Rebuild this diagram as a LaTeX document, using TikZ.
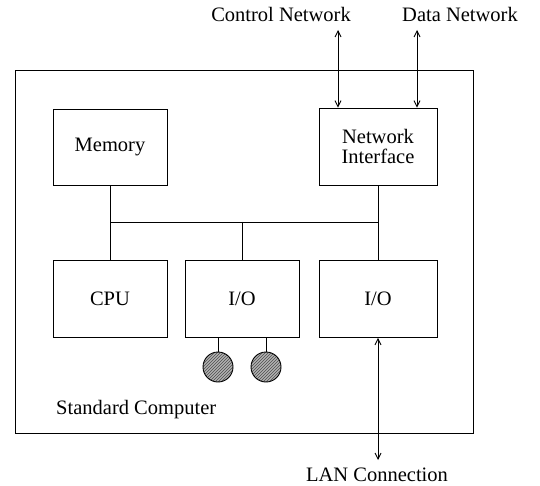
\documentclass[tikz,border=0pt]{standalone}
\usepackage{fontspec}
\setmainfont{Liberation Serif}
\usetikzlibrary{arrows.meta,patterns}
\begin{document}
\begin{tikzpicture}[x=1pt,y=-1pt,
  every node/.style={font=\fontsize{20.5}{23}\selectfont},
  unit/.style={draw, line width=0.9pt, inner sep=0pt, align=center},
  wire/.style={line width=0.9pt},
  link/.style={line width=0.9pt, {Straight Barb[length=6pt,width=6pt]}-{Straight Barb[length=6pt,width=6pt]}},
  disk/.style={draw, line width=0.9pt, circle, minimum size=30pt, inner sep=0pt,
    preaction={fill=gray!60}, pattern=north east lines, pattern color=black!70}]
\useasboundingbox (0,0) rectangle (540,486);
% outer frame
\node[unit, line width=1pt, minimum width=458pt, minimum height=362pt] (outer) at (244,252) {};
% units
\node[unit, minimum width=114pt, minimum height=76pt] (mem) at (110,147) {Memory};
\node[unit, minimum width=118pt, minimum height=77pt] (ni) at (378,146.5) {Network\\[-3pt]Interface};
\node[unit, minimum width=114pt, minimum height=77pt] (cpu) at (110,299) {CPU};
\node[unit, minimum width=114pt, minimum height=77pt] (io1) at (242,299) {I/O};
\node[unit, minimum width=118pt, minimum height=77pt] (io2) at (378,299) {I/O};
% bus
\coordinate (busL) at (110,222);
\coordinate (busM) at (242,222);
\coordinate (busR) at (378,222);
\draw[wire] (busL) -- (busR);
\draw[wire] (mem.south) -- (cpu.north);
\draw[wire] (busM) -- (io1.north);
\draw[wire] (ni.south) -- (io2.north);
% disks
\node[disk] (d1) at (218,367) {};
\node[disk] (d2) at (266,367) {};
\draw[wire] (d1.north |- io1.south) -- (d1.north);
\draw[wire] (d2.north |- io1.south) -- (d2.north);
% external links
\coordinate (ctrlTop) at (338,30);
\coordinate (dataTop) at (417,30);
\coordinate (lanBot) at (378,460);
\draw[link] (ctrlTop) -- (ctrlTop |- ni.north);
\draw[link] (dataTop) -- (dataTop |- ni.north);
\draw[link] (io2.south) -- (lanBot);
% labels
\node[anchor=base] (lctrl) at (281,22) {Control Network};
\node[anchor=base] (ldata) at (460,22) {Data Network};
\node[anchor=base] (llan) at (377,481) {LAN Connection};
\node[anchor=base west, inner sep=0pt] (lstd) at (56,414) {Standard Computer};
\end{tikzpicture}
\end{document}
